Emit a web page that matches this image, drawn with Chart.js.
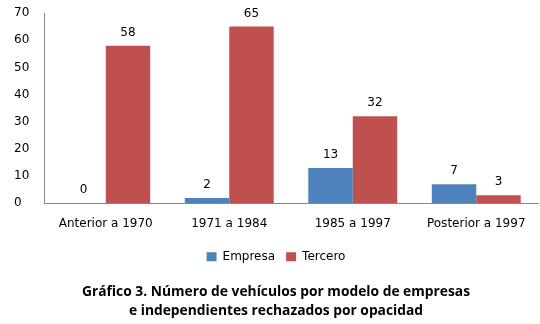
<!DOCTYPE html>
<html>
<head>
<meta charset="utf-8">
<script src="https://cdn.jsdelivr.net/npm/chart.js@4"></script>
<style>
  html, body { margin: 0; padding: 0; background: #fff; }
  #wrap { width: 540px; height: 324px; }
</style>
</head>
<body>
<div id="wrap"><canvas id="barChart"></canvas></div>
<script>
'use strict'

// Chart data
const categories = ['Anterior a 1970', '1971 a 1984', '1985 a 1997', 'Posterior a 1997'];
const empresaValues = [0, 2, 13, 7];
const terceroValues = [58, 65, 32, 3];
const yTicks = [0, 10, 20, 30, 40, 50, 60, 70];

// Draw the value above each bar
const valueLabels = {
  id: 'valueLabels',
  afterDatasetsDraw(chart) {
    const ctx = chart.ctx;
    ctx.save();
    ctx.font = '12px "DejaVu Sans"';
    ctx.fillStyle = '#000';
    ctx.textAlign = 'center';
    ctx.textBaseline = 'bottom';
    chart.data.datasets.forEach((ds, i) => {
      const meta = chart.getDatasetMeta(i);
      meta.data.forEach((bar, j) => {
        ctx.fillText(ds.data[j], bar.x, bar.y - 7);
      });
    });
    ctx.restore();
  }
};

document.addEventListener('DOMContentLoaded', function () {
  const ctx = document.getElementById('barChart').getContext('2d');
  new Chart(ctx, {
    type: 'bar',
    data: {
      labels: categories,
      datasets: [
        {
          label: 'Empresa',
          data: empresaValues,
          backgroundColor: '#4F81BD',
          borderColor: '#4F81BD',
          borderWidth: 0
        },
        {
          label: 'Tercero',
          data: terceroValues,
          backgroundColor: '#C0504D',
          borderColor: '#C0504D',
          borderWidth: 0
        }
      ]
    },
    options: {
      responsive: true,
      maintainAspectRatio: false,
      animation: false,
      layout: { padding: { left: 14, right: 2, top: 13, bottom: 4 } },
      datasets: {
        bar: { categoryPercentage: 0.72, barPercentage: 1.0 }
      },
      scales: {
        x: {
          afterFit(axis) {
            axis.height += 4;
          },
          grid: { display: false },
          border: { display: true, color: '#878787', width: 1 },
          ticks: {
            color: '#000',
            font: { family: 'DejaVu Sans', size: 12 },
            padding: 5,
            maxRotation: 0,
            autoSkip: false
          }
        },
        y: {
          min: 0,
          max: 70,
          afterBuildTicks(axis) {
            axis.ticks = yTicks.map(v => ({ value: v }));
          },
          afterFit(axis) {
            axis.width = 30;
            axis.paddingTop = 0;
            axis.paddingBottom = 0;
          },
          grid: { display: false },
          border: { display: true, color: '#878787', width: 1 },
          ticks: {
            color: '#000',
            font: { family: 'DejaVu Sans', size: 12 },
            crossAlign: 'far',
            padding: 10
          }
        }
      },
      plugins: {
        legend: {
          position: 'bottom',
          labels: {
            color: '#000',
            font: { family: 'DejaVu Sans', size: 12 },
            boxWidth: 10,
            boxHeight: 9,
            padding: 11
          }
        },
        title: {
          display: true,
          position: 'bottom',
          text: ['Gráfico 3. Número de vehículos por modelo de empresas', 'e independientes rechazados por opacidad'],
          color: '#000',
          font: { family: 'Open Sans', size: 13.8, weight: 'bold', lineHeight: 1.35 },
          padding: { top: 10, bottom: 0 }
        },
        tooltip: { enabled: false }
      }
    },
    plugins: [valueLabels]
  });
});
</script>
</body>
</html>
